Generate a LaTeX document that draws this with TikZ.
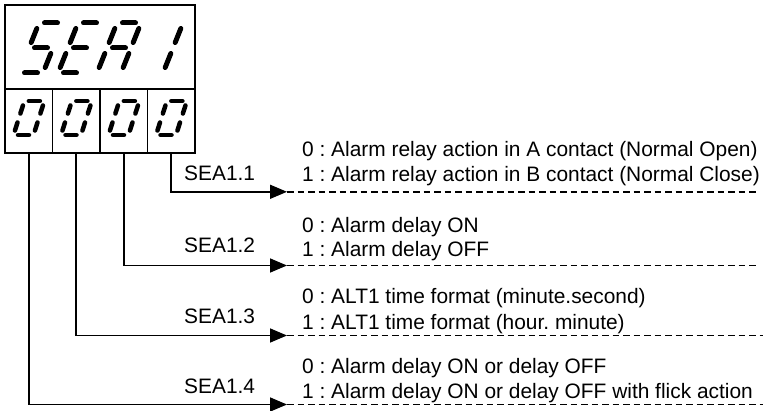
\documentclass[tikz,border=0pt]{standalone}
\usepackage{fontspec}
\setmainfont{Liberation Sans}
\usetikzlibrary{arrows.meta}
\frenchspacing
\newcommand{\mysega}{\draw[seg] (\dg,\dh) -- ({\dw-\dg},\dh);}
\newcommand{\mysegb}{\draw[seg] (\dw,{\dh-\dg}) -- (\dw,{\dh/2+\dg});}
\newcommand{\mysegc}{\draw[seg] (\dw,{\dh/2-\dg}) -- (\dw,\dg);}
\newcommand{\mysegd}{\draw[seg] (\dg,0) -- ({\dw-\dg},0);}
\newcommand{\mysege}{\draw[seg] (0,{\dh/2-\dg}) -- (0,\dg);}
\newcommand{\mysegf}{\draw[seg] (0,{\dh-\dg}) -- (0,{\dh/2+\dg});}
\newcommand{\mysegg}{\draw[seg] (\dg,{\dh/2}) -- ({\dw-\dg},{\dh/2});}
% #1 x0, #2 y0, #3 width, #4 height, #5 gap, #6 slant, #7 stroke, #8 segments
\newcommand{\mydigit}[8]{%
  \def\dw{#3}\def\dh{#4}\def\dg{#5}%
  \begin{scope}[shift={(#1,#2)}, xslant=#6, seg/.style={line width=#7pt, line cap=round}]
    \foreach \s in {#8} {\csname myseg\s\endcsname}
  \end{scope}}
\tikzset{
  frame/.style={draw, line width=1.6pt, inner sep=0pt},
  cell/.style={frame, minimum width=47.5pt, minimum height=64pt},
  conn/.style={line width=1.6pt, -{Triangle[length=17pt, width=14pt]}},
  dashline/.style={line width=1.5pt, dash pattern=on 6.5pt off 4pt},
  lbl/.style={anchor=base west, inner sep=0pt, font=\fontsize{20.9}{24}\selectfont},
}
\begin{document}
\begin{tikzpicture}[x=1pt, y=1pt]
\useasboundingbox (0,0) rectangle (773,410);
% display
\node[frame, minimum width=190pt, minimum height=84pt] (top) at (100,363) {};
\node[cell] (c1) at (28.75,289) {};
\node[cell] (c2) at (76.25,289) {};
\node[cell] (c3) at (123.75,289) {};
\node[cell] (c4) at (171.25,289) {};
% top digits  S E A 1
\mydigit{19}{337}{24}{50}{5.5}{0.4}{5}{a,f,g,c,d}
\mydigit{58}{337}{24}{50}{5.5}{0.4}{5}{a,f,g,e,d}
\mydigit{97}{337}{24}{50}{5.5}{0.4}{5}{a,b,c,e,f,g}
\mydigit{139}{337}{24}{50}{5.5}{0.4}{5}{b,c}
% bottom digits 0 0 0 0
\mydigit{13.5}{275}{20}{34}{4.5}{0.32}{4.5}{a,b,c,d,e,f}
\mydigit{61}{275}{20}{34}{4.5}{0.32}{4.5}{a,b,c,d,e,f}
\mydigit{108.5}{275}{20}{34}{4.5}{0.32}{4.5}{a,b,c,d,e,f}
\mydigit{156}{275}{20}{34}{4.5}{0.32}{4.5}{a,b,c,d,e,f}
% arrow targets and dashed ends
\coordinate (t1) at (287,218.2);
\coordinate (t2) at (287,144.5);
\coordinate (t3) at (287,74.5);
\coordinate (t4) at (287,5.5);
\coordinate (e1) at (758,218.2);
\coordinate (e2) at (758,144.5);
\coordinate (e3) at (763,74.5);
\coordinate (e4) at (763,5.5);
\draw[conn] (c4.south) |- (t1);
\draw[conn] (c3.south) |- (t2);
\draw[conn] (c2.south) |- (t3);
\draw[conn] (c1.south) |- (t4);
\draw[dashline] (t1) -- (e1);
\draw[dashline] (t2) -- (e2);
\draw[dashline] (t3) -- (e3);
\draw[dashline] (t4) -- (e4);
% labels
\node[lbl] (s1) at (184,229) {SEA1.1};
\node[lbl] (s2) at (184,158) {SEA1.2};
\node[lbl] (s3) at (184,87) {SEA1.3};
\node[lbl] (s4) at (184,17) {SEA1.4};
% texts
\node[lbl] (a0) at (302,253) {0 : Alarm relay action in A contact (Normal Open)};
\node[lbl] (a1) at (302,228) {1 : Alarm relay action in B contact (Normal Close)};
\node[lbl] (b0) at (302,178) {0 : Alarm delay ON};
\node[lbl] (b1) at (302,154) {1 : Alarm delay OFF};
\node[lbl] (d0) at (302,106.5) {0 : ALT1 time format (minute.second)};
\node[lbl] (d1) at (302,81) {1 : ALT1 time format (hour. minute)};
\node[lbl] (f0) at (302,36.5) {0 : Alarm delay ON or delay OFF};
\node[lbl] (f1) at (302,12) {1 : Alarm delay ON or delay OFF with flick action};
\end{tikzpicture}
\end{document}
